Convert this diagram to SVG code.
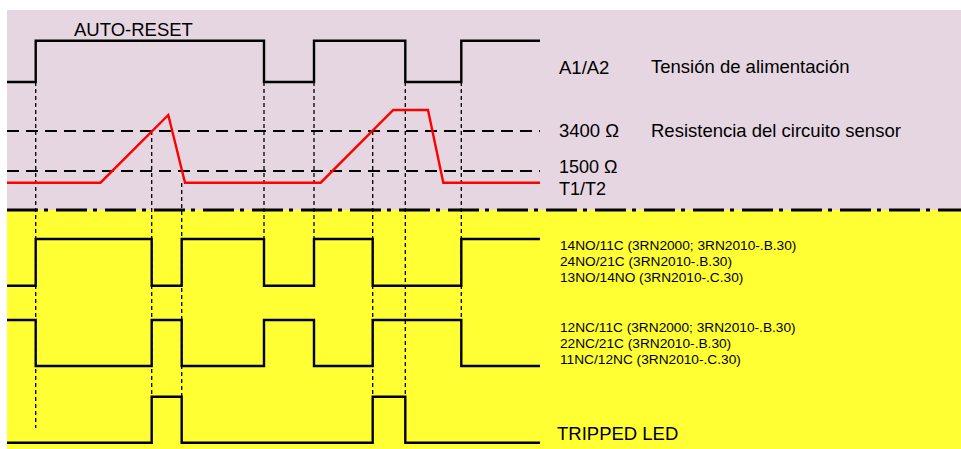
<svg xmlns="http://www.w3.org/2000/svg" width="961" height="449" viewBox="0 0 961 449">
<style>
.sig{fill:none;stroke:#000;stroke-width:2.4;stroke-linejoin:miter}
.red{fill:none;stroke:#f00;stroke-width:2.4}
.thr{fill:none;stroke:#000;stroke-width:2;stroke-dasharray:12 7}
.dot{fill:none;stroke:#000;stroke-width:1.3;stroke-dasharray:4 3}
.sep{fill:none;stroke:#000;stroke-width:3;stroke-dasharray:31 6 4 8}
text{font-family:"Liberation Sans",Arial,sans-serif;fill:#000}
.lg{font-size:18.5px}
.md{font-size:18px}
.sm{font-size:13.7px}
</style>
<rect x="0" y="0" width="961" height="449" fill="#fff"/>
<rect id="bg-top" x="7" y="10" width="954" height="200" fill="#e6d6e1"/>
<rect id="bg-bottom" x="7" y="210" width="954" height="239" fill="#ffff33"/>
<g id="connectors">
<line class="dot" x1="35.7" y1="82" x2="35.7" y2="428"/>
<line class="dot" x1="151.7" y1="131" x2="151.7" y2="397"/>
<line class="dot" x1="181.7" y1="183" x2="181.7" y2="397"/>
<line class="dot" x1="264" y1="82" x2="264" y2="240"/>
<line class="dot" x1="314" y1="82" x2="314" y2="240"/>
<line class="dot" x1="372.7" y1="131" x2="372.7" y2="397"/>
<line class="dot" x1="405.3" y1="82" x2="405.3" y2="397"/>
<line class="dot" x1="461.3" y1="82" x2="461.3" y2="320"/>
<line class="thr" x1="7" y1="131" x2="540" y2="131"/>
<line class="thr" x1="7" y1="171" x2="540" y2="171"/>
<line class="sep" x1="7" y1="210" x2="961" y2="210"/>
</g>
<g id="a1a2">
<polyline class="sig" points="7,82 35.7,82 35.7,40.7 264,40.7 264,82 314,82 314,40.7 405.3,40.7 405.3,82 461.3,82 461.3,40.7 540,40.7"/>
<text class="lg" x="74" y="36">AUTO-RESET</text>
<text class="lg" x="559" y="74">A1/A2</text>
<text class="lg" x="651" y="73">Tensión de alimentación</text>
</g>
<g id="t1t2">
<polyline class="red" points="7,182.7 100.5,182.7 168.3,115 185,182.7 320.7,182.7 393.3,110 428,110 443.3,182.7 540,182.7"/>
<text class="lg" x="559" y="137">3400 Ω</text>
<text class="lg" x="651" y="137">Resistencia del circuito sensor</text>
<text class="md" x="559" y="173">1500 Ω</text>
<text class="md" x="559" y="194.5">T1/T2</text>
</g>
<g id="no-contacts">
<polyline class="sig" points="7,285.7 35.7,285.7 35.7,239 151.7,239 151.7,285.7 181.7,285.7 181.7,239 264,239 264,285.7 314,285.7 314,239 372.7,239 372.7,285.7 461.3,285.7 461.3,239 540,239"/>
<text class="sm" x="560" y="249.5">14NO/11C (3RN2000; 3RN2010-.B.30)</text>
<text class="sm" x="560" y="265.8">24NO/21C (3RN2010-.B.30)</text>
<text class="sm" x="560" y="282">13NO/14NO (3RN2010-.C.30)</text>
</g>
<g id="nc-contacts">
<polyline class="sig" points="7,320 35.7,320 35.7,366 151.7,366 151.7,320 181.7,320 181.7,366 264,366 264,320 314,320 314,366 372.7,366 372.7,320 461.3,320 461.3,366 540,366"/>
<text class="sm" x="560" y="331.7">12NC/11C (3RN2000; 3RN2010-.B.30)</text>
<text class="sm" x="560" y="348">22NC/21C (3RN2010-.B.30)</text>
<text class="sm" x="560" y="364.3">11NC/12NC (3RN2010-.C.30)</text>
</g>
<g id="tripped-led">
<polyline class="sig" points="7,442.7 151.7,442.7 151.7,396.7 181.7,396.7 181.7,442.7 372.7,442.7 372.7,396.7 405.3,396.7 405.3,442.7 540,442.7"/>
<text class="lg" x="557" y="440">TRIPPED LED</text>
</g>
</svg>
